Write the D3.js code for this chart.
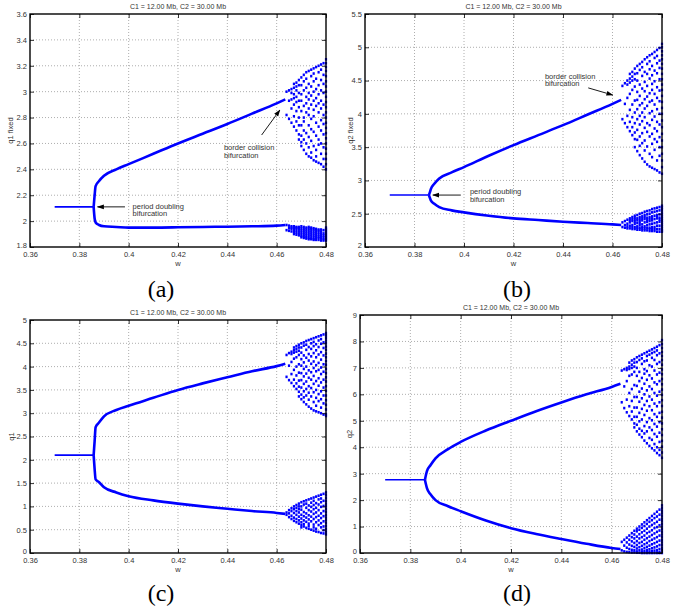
<!DOCTYPE html>
<html>
<head>
<meta charset="utf-8">
<script src="https://cdn.jsdelivr.net/npm/d3@7"></script>
<style>
body { margin: 0; background: #fff; }
text { font-family: "Liberation Sans", Arial, sans-serif; }
</style>
</head>
<body>
<svg id="fig" width="681" height="614"></svg>
<script>
var title = "C1 = 12.00 Mb, C2 = 30.00 Mb";
var wTicks = [0.36, 0.38, 0.4, 0.42, 0.44, 0.46, 0.48];

// period-1 fixed point, flat segment before the flip
var wPeriod1 = [0.37, 0.3858];
var p1Values = [2.11, 2.78, 2.1, 2.77];

// period-2 branches after the period doubling
var wBranch = [0.3858, 0.3862, 0.3866, 0.388, 0.39, 0.395, 0.40, 0.41, 0.42, 0.43, 0.44, 0.45, 0.46, 0.4635];
var aUp = [2.11, 2.2, 2.27, 2.31, 2.35, 2.40, 2.44, 2.52, 2.60, 2.675, 2.75, 2.83, 2.91, 2.94];
var aLo = [2.11, 2.02, 1.99, 1.97, 1.96, 1.955, 1.95, 1.95, 1.952, 1.955, 1.957, 1.96, 1.965, 1.97];
var bUp = [2.78, 2.82, 2.87, 2.95, 3.03, 3.12, 3.2, 3.37, 3.53, 3.68, 3.83, 3.99, 4.15, 4.21];
var bLo = [2.78, 2.74, 2.7, 2.65, 2.6, 2.55, 2.52, 2.47, 2.43, 2.405, 2.38, 2.36, 2.34, 2.33];
var cUp = [2.1, 2.4, 2.7, 2.8, 2.93, 3.07, 3.16, 3.33, 3.5, 3.64, 3.77, 3.9, 4.01, 4.06];
var cLo = [2.1, 1.8, 1.58, 1.52, 1.41, 1.3, 1.22, 1.13, 1.06, 1.0, 0.95, 0.9, 0.86, 0.84];
var dUp = [2.77, 2.95, 3.1, 3.32, 3.58, 3.93, 4.2, 4.63, 5.0, 5.36, 5.69, 6.0, 6.28, 6.4];
var dLo = [2.77, 2.6, 2.45, 2.22, 2.0, 1.77, 1.58, 1.23, 0.94, 0.72, 0.53, 0.35, 0.19, 0.15];

// chaotic region after the border collision, one list of q per w column
var wChaos = [0.464, 0.465, 0.466, 0.467, 0.468, 0.469, 0.470, 0.471, 0.472, 0.473, 0.474, 0.475, 0.476, 0.477, 0.478, 0.479, 0.480];
var aChaosUp = [
  [3.0, 2.82], [3.01, 2.79, 2.93], [3.02, 2.99, 2.76, 2.87, 2.94],
  [3.03, 2.98, 2.73, 2.81, 2.9, 2.95, 3.06], [3.07, 3.01, 2.96, 2.7, 2.77, 2.85, 2.92, 3.04],
  [3.09, 3.05, 2.99, 2.67, 2.74, 2.8, 2.88, 2.93, 2.63],
  [3.11, 3.05, 2.98, 2.93, 2.85, 2.74, 2.66, 2.61, 2.58],
  [3.13, 3.08, 3.01, 2.89, 2.8, 2.77, 2.7, 2.55, 2.63],
  [3.15, 3.1, 3.03, 2.96, 2.91, 2.84, 2.68, 2.6, 2.52],
  [3.16, 3.06, 2.99, 2.87, 2.82, 2.74, 2.65, 2.57, 2.5, 2.94],
  [3.17, 3.12, 3.04, 2.97, 2.9, 2.79, 2.71, 2.62, 2.53, 2.49],
  [3.18, 3.14, 3.08, 3.0, 2.86, 2.81, 2.69, 2.58, 2.47, 2.93],
  [3.19, 3.1, 3.02, 2.95, 2.89, 2.76, 2.66, 2.55, 2.5, 2.46],
  [3.2, 3.15, 3.05, 2.98, 2.84, 2.73, 2.63, 2.59, 2.45, 2.91],
  [3.21, 3.17, 3.09, 2.93, 2.87, 2.78, 2.7, 2.6, 2.52, 2.44, 3.01],
  [3.22, 3.13, 3.06, 2.99, 2.9, 2.82, 2.67, 2.57, 2.48, 2.42, 2.75],
  [3.25, 3.22, 3.19, 3.16, 3.12, 3.08, 3.04, 3.0, 2.96, 2.92, 2.88, 2.84, 2.8, 2.76, 2.72, 2.68, 2.64, 2.6, 2.56, 2.52, 2.48, 2.44, 2.4]
];
var aChaosLo = [
  [1.97, 1.93], [1.965, 1.925, 1.945], [1.96, 1.92, 1.94, 1.95], [1.96, 1.915, 1.93, 1.945, 1.9],
  [1.955, 1.91, 1.925, 1.94, 1.895, 1.95], [1.955, 1.905, 1.92, 1.935, 1.89, 1.945],
  [1.96, 1.9, 1.915, 1.93, 1.885, 1.945, 1.875], [1.955, 1.895, 1.91, 1.925, 1.88, 1.94, 1.87],
  [1.95, 1.89, 1.905, 1.92, 1.875, 1.935, 1.865], [1.955, 1.885, 1.9, 1.915, 1.87, 1.93, 1.86, 1.945],
  [1.95, 1.88, 1.895, 1.91, 1.865, 1.925, 1.86, 1.94], [1.945, 1.875, 1.89, 1.905, 1.86, 1.92, 1.855, 1.935],
  [1.94, 1.87, 1.885, 1.9, 1.855, 1.915, 1.93], [1.935, 1.87, 1.88, 1.895, 1.855, 1.91, 1.925],
  [1.935, 1.865, 1.875, 1.89, 1.85, 1.905, 1.92], [1.93, 1.86, 1.875, 1.89, 1.85, 1.905],
  [1.95, 1.94, 1.93, 1.92, 1.91, 1.9, 1.89, 1.88, 1.87, 1.86, 1.85]
];
var bChaosUp = [
  [4.42, 3.92], [4.46, 3.86, 4.15], [4.5, 4.44, 3.8, 3.97, 4.24],
  [4.53, 4.47, 3.74, 3.88, 4.06, 4.3, 4.6], [4.63, 4.56, 4.5, 3.68, 3.8, 3.95, 4.14, 4.36],
  [4.68, 4.6, 4.52, 3.62, 3.72, 3.86, 4.02, 4.2, 4.41, 3.5],
  [4.72, 4.61, 4.5, 4.33, 4.21, 4.07, 3.92, 3.76, 3.61, 3.44],
  [4.75, 4.66, 4.44, 4.27, 4.13, 3.97, 3.84, 3.66, 3.52, 3.38],
  [4.78, 4.7, 4.57, 4.38, 4.16, 4.02, 3.89, 3.71, 3.56, 3.33],
  [4.82, 4.63, 4.48, 4.34, 4.22, 4.08, 3.95, 3.79, 3.6, 3.45, 3.28],
  [4.85, 4.75, 4.6, 4.42, 4.26, 4.12, 3.86, 3.73, 3.51, 3.24],
  [4.88, 4.79, 4.67, 4.53, 4.31, 4.18, 4.01, 3.83, 3.66, 3.4, 3.21],
  [4.9, 4.72, 4.58, 4.45, 4.36, 4.2, 4.04, 3.91, 3.7, 3.55, 3.35, 3.19],
  [4.93, 4.84, 4.65, 4.49, 4.3, 4.14, 3.96, 3.78, 3.62, 3.46, 3.17],
  [4.96, 4.87, 4.76, 4.61, 4.4, 4.24, 4.07, 3.88, 3.74, 3.58, 3.3, 3.15],
  [4.99, 4.8, 4.69, 4.52, 4.35, 4.19, 4.0, 3.84, 3.65, 3.5, 3.37, 3.12],
  [5.05, 5.0, 4.94, 4.88, 4.82, 4.75, 4.68, 4.6, 4.52, 4.44, 4.36, 4.27, 4.18, 4.09, 4.0, 3.9, 3.8, 3.7, 3.6, 3.5, 3.4, 3.3, 3.2, 3.1]
];
var bChaosLo = [
  [2.37, 2.3], [2.39, 2.29, 2.33], [2.41, 2.28, 2.35, 2.31], [2.43, 2.28, 2.37, 2.32, 2.4],
  [2.45, 2.27, 2.39, 2.33, 2.3, 2.42], [2.47, 2.27, 2.41, 2.35, 2.3, 2.44, 2.38],
  [2.48, 2.26, 2.43, 2.36, 2.31, 2.29, 2.4], [2.5, 2.26, 2.45, 2.39, 2.33, 2.29, 2.42, 2.36],
  [2.51, 2.25, 2.46, 2.4, 2.34, 2.3, 2.28, 2.43], [2.53, 2.25, 2.48, 2.42, 2.37, 2.31, 2.28, 2.45],
  [2.54, 2.25, 2.49, 2.44, 2.38, 2.33, 2.29, 2.41], [2.55, 2.24, 2.5, 2.45, 2.39, 2.34, 2.29, 2.27, 2.42],
  [2.57, 2.24, 2.52, 2.46, 2.4, 2.35, 2.3, 2.27, 2.43], [2.58, 2.24, 2.53, 2.47, 2.42, 2.36, 2.3, 2.27],
  [2.59, 2.23, 2.54, 2.48, 2.43, 2.37, 2.32, 2.27, 2.45], [2.6, 2.23, 2.55, 2.49, 2.44, 2.38, 2.32, 2.27, 2.41],
  [2.62, 2.59, 2.56, 2.52, 2.49, 2.46, 2.43, 2.4, 2.37, 2.34, 2.31, 2.28, 2.25, 2.23]
];
var cChaosUp = [
  [4.25, 3.78], [4.29, 3.71, 4.02], [4.32, 4.27, 3.65, 3.84, 4.1],
  [4.35, 4.3, 3.58, 3.72, 3.93, 4.17, 4.41], [4.44, 4.38, 4.32, 3.52, 3.64, 3.81, 4.0, 4.2],
  [4.47, 4.41, 4.34, 3.46, 3.57, 3.7, 3.87, 4.05, 4.25, 3.36],
  [4.5, 4.41, 4.3, 4.16, 4.02, 3.86, 3.71, 3.55, 3.4, 3.3],
  [4.52, 4.45, 4.24, 4.09, 3.95, 3.79, 3.63, 3.47, 3.34, 3.24],
  [4.55, 4.47, 4.36, 4.19, 4.0, 3.85, 3.68, 3.52, 3.38, 3.19],
  [4.57, 4.42, 4.27, 4.13, 3.92, 3.76, 3.58, 3.44, 3.29, 3.14],
  [4.59, 4.5, 4.38, 4.22, 4.06, 3.88, 3.72, 3.54, 3.36, 3.1],
  [4.61, 4.53, 4.44, 4.29, 4.11, 3.97, 3.8, 3.63, 3.45, 3.24, 3.06],
  [4.63, 4.48, 4.35, 4.2, 4.03, 3.9, 3.69, 3.5, 3.33, 3.16, 3.04],
  [4.65, 4.56, 4.42, 4.26, 4.08, 3.93, 3.75, 3.59, 3.41, 3.26, 3.02],
  [4.67, 4.59, 4.49, 4.31, 4.15, 3.98, 3.84, 3.66, 3.47, 3.3, 3.12, 3.0],
  [4.69, 4.52, 4.4, 4.24, 4.05, 3.89, 3.72, 3.55, 3.38, 3.21, 2.97],
  [4.72, 4.67, 4.62, 4.56, 4.5, 4.43, 4.36, 4.28, 4.2, 4.12, 4.04, 3.95, 3.86, 3.77, 3.68, 3.58, 3.48, 3.38, 3.28, 3.18, 3.08, 2.98, 2.94]
];
var cChaosLo = [
  [0.87, 0.82], [0.92, 0.77, 0.85], [0.96, 0.73, 0.8, 0.9], [1.0, 0.69, 0.76, 0.86, 0.94],
  [1.03, 0.66, 0.73, 0.82, 0.9, 0.97], [1.06, 0.63, 0.7, 0.78, 0.87, 0.94, 1.0],
  [1.09, 1.0, 0.93, 0.82, 0.74, 0.66, 0.6, 0.55],
  [1.11, 1.04, 0.88, 0.79, 0.7, 0.62, 0.57],
  [1.13, 1.06, 0.97, 0.85, 0.76, 0.67, 0.54],
  [1.15, 1.02, 0.92, 0.81, 0.72, 0.63, 0.58, 0.52],
  [1.17, 1.08, 0.99, 0.89, 0.78, 0.68, 0.5],
  [1.19, 1.12, 1.03, 0.94, 0.84, 0.73, 0.61, 0.55, 0.48],
  [1.21, 1.07, 0.97, 0.87, 0.77, 0.66, 0.52, 0.46],
  [1.23, 1.15, 1.04, 0.92, 0.8, 0.7, 0.6, 0.45],
  [1.25, 1.17, 1.09, 0.99, 0.85, 0.75, 0.64, 0.55, 0.43],
  [1.27, 1.12, 1.01, 0.9, 0.79, 0.68, 0.57, 0.49, 0.42],
  [1.3, 1.24, 1.18, 1.12, 1.06, 1.0, 0.94, 0.88, 0.82, 0.76, 0.7, 0.64, 0.58, 0.52, 0.46, 0.4]
];
var dChaosUp = [
  [6.9, 5.7], [6.95, 5.48, 6.3], [7.0, 6.92, 5.32, 5.8, 6.5],
  [7.05, 6.96, 5.18, 5.55, 6.05, 6.7, 7.2], [7.28, 7.12, 7.0, 5.05, 5.35, 5.75, 6.2, 6.75],
  [7.33, 7.2, 7.05, 4.9, 5.15, 5.5, 5.9, 6.35, 6.85, 4.75],
  [7.4, 7.22, 7.0, 6.7, 6.32, 5.9, 5.5, 5.15, 4.85, 4.6],
  [7.45, 7.3, 6.85, 6.5, 6.1, 5.72, 5.3, 4.98, 4.7, 4.48],
  [7.5, 7.36, 7.15, 6.62, 6.22, 5.85, 5.45, 5.05, 4.62, 4.38],
  [7.55, 7.25, 6.95, 6.78, 6.4, 6.0, 5.6, 5.22, 4.8, 4.52, 4.25],
  [7.6, 7.45, 7.28, 6.88, 6.55, 6.15, 5.75, 5.38, 4.95, 4.6, 4.15],
  [7.65, 7.5, 7.1, 6.72, 6.3, 5.92, 5.55, 5.1, 4.75, 4.35, 4.05],
  [7.7, 7.56, 7.38, 7.05, 6.6, 6.2, 5.8, 5.4, 5.02, 4.65, 4.28, 3.96],
  [7.75, 7.6, 7.3, 6.9, 6.45, 6.05, 5.65, 5.25, 4.88, 4.5, 4.12, 3.88],
  [7.8, 7.66, 7.48, 7.15, 6.75, 6.38, 5.95, 5.55, 5.15, 4.78, 4.4, 4.0, 3.78],
  [7.86, 7.55, 7.22, 6.82, 6.5, 6.1, 5.7, 5.3, 4.95, 4.55, 4.2, 3.9, 3.7],
  [8.05, 7.9, 7.75, 7.6, 7.45, 7.3, 7.12, 6.94, 6.76, 6.58, 6.38, 6.18, 5.98, 5.78, 5.56, 5.34, 5.12, 4.9, 4.68, 4.46, 4.24, 4.02, 3.8, 3.6]
];
var dChaosLo = [
  [0.42, 0.1], [0.5, 0.06, 0.28], [0.58, 0.04, 0.2, 0.4], [0.66, 0.03, 0.15, 0.32, 0.5],
  [0.75, 0.02, 0.12, 0.27, 0.44, 0.6], [0.84, 0.02, 0.1, 0.23, 0.38, 0.55, 0.7],
  [0.92, 0.82, 0.62, 0.45, 0.3, 0.17, 0.06, 0.01],
  [1.0, 0.88, 0.71, 0.55, 0.38, 0.22, 0.1, 0.01],
  [1.08, 0.95, 0.78, 0.6, 0.42, 0.27, 0.13, 0.04, 0.0],
  [1.16, 1.02, 0.84, 0.66, 0.5, 0.33, 0.19, 0.08, 0.0],
  [1.24, 1.1, 0.92, 0.75, 0.56, 0.38, 0.23, 0.11, 0.03, 0.0],
  [1.32, 1.18, 1.0, 0.8, 0.62, 0.45, 0.28, 0.14, 0.05, 0.0],
  [1.4, 1.24, 1.06, 0.86, 0.68, 0.5, 0.33, 0.18, 0.07, 0.0],
  [1.48, 1.32, 1.12, 0.94, 0.74, 0.55, 0.37, 0.21, 0.09, 0.0],
  [1.56, 1.38, 1.18, 0.98, 0.8, 0.6, 0.42, 0.25, 0.11, 0.02, 0.0],
  [1.64, 1.45, 1.26, 1.05, 0.85, 0.66, 0.47, 0.3, 0.15, 0.04, 0.0],
  [1.8, 1.7, 1.6, 1.5, 1.4, 1.3, 1.2, 1.1, 1.0, 0.9, 0.8, 0.7, 0.6, 0.5, 0.4, 0.3, 0.2, 0.1, 0.0]
];

var aTicks = [1.8, 2, 2.2, 2.4, 2.6, 2.8, 3, 3.2, 3.4, 3.6];
var bTicks = [2, 2.5, 3, 3.5, 4, 4.5, 5, 5.5];
var cTicks = [0, 0.5, 1, 1.5, 2, 2.5, 3, 3.5, 4, 4.5, 5];
var dTicks = [0, 1, 2, 3, 4, 5, 6, 7, 8, 9];

var panels = [
  {cap: "(a)", ylab: "q1 fixed", ticks: aTicks, p1: p1Values[0], up: aUp, lo: aLo, cu: aChaosUp, cl: aChaosLo,
   l: 30, r: 326, t: 14, b: 247, titleY: 8.5, ylabX: 10, capX: 161, capY: 297,
   notes: [
     {lines: ["period doubling", "bifurcation"], at: [0.4016, 2.097], from: [0.3985, 2.11], to: [0.3874, 2.11]},
     {lines: ["border collision", "bifurcation"], at: [0.4386, 2.549], from: [0.4539, 2.665], to: [0.4613, 2.858]}
   ]},
  {cap: "(b)", ylab: "q2 fixed", ticks: bTicks, p1: p1Values[1], up: bUp, lo: bLo, cu: bChaosUp, cl: bChaosLo,
   l: 365, r: 662, t: 14, b: 247, titleY: 8.5, ylabX: 350, capX: 517, capY: 297,
   notes: [
     {lines: ["period doubling", "bifurcation"], at: [0.4024, 2.796], from: [0.3987, 2.78], to: [0.3874, 2.78]},
     {lines: ["border collision", "bifurcation"], at: [0.4327, 4.524], from: [0.4502, 4.39], to: [0.4601, 4.283]}
   ]},
  {cap: "(c)", ylab: "q1", ticks: cTicks, p1: p1Values[2], up: cUp, lo: cLo, cu: cChaosUp, cl: cChaosLo,
   l: 30, r: 326, t: 320, b: 553, titleY: 315, ylabX: 11, capX: 161, capY: 601, notes: []},
  {cap: "(d)", ylab: "q2", ticks: dTicks, p1: p1Values[3], up: dUp, lo: dLo, cu: dChaosUp, cl: dChaosLo,
   l: 360, r: 662, t: 315, b: 553, titleY: 310, ylabX: 349, capX: 517, capY: 601, notes: []}
];

var svg = d3.select("#fig");
var defs = svg.append("defs");
defs.append("marker")
    .attr("id", "head")
    .attr("viewBox", "0 0 10 10")
    .attr("refX", 9).attr("refY", 5)
    .attr("markerWidth", 7).attr("markerHeight", 7)
    .attr("markerUnits", "userSpaceOnUse")
    .attr("orient", "auto")
  .append("path")
    .attr("d", "M0,1.5 L10,5 L0,8.5 Z")
    .attr("fill", "#000");

var blue = "#0000ff";
var fmt = function(d) { return String(d); };

panels.forEach(function(p) {
    var g = svg.append("g");
    var x = d3.scaleLinear().domain([0.36, 0.48]).range([p.l, p.r]);
    var y = d3.scaleLinear().domain(d3.extent(p.ticks)).range([p.b, p.t]);

    // dotted grid
    g.selectAll(".gx").data(wTicks.slice(1, -1)).enter().append("line")
        .attr("x1", function(d) { return x(d); }).attr("x2", function(d) { return x(d); })
        .attr("y1", p.t).attr("y2", p.b)
        .attr("stroke", "#999").attr("stroke-width", 0.8).attr("stroke-dasharray", "1,2");
    g.selectAll(".gy").data(p.ticks.slice(1, -1)).enter().append("line")
        .attr("y1", function(d) { return y(d); }).attr("y2", function(d) { return y(d); })
        .attr("x1", p.l).attr("x2", p.r)
        .attr("stroke", "#999").attr("stroke-width", 0.8).attr("stroke-dasharray", "1,2");

    var line = d3.line().x(function(d) { return x(d[0]); }).y(function(d) { return y(d[1]); });
    var smooth = d3.line().curve(d3.curveMonotoneX)
        .x(function(d) { return x(d[0]); }).y(function(d) { return y(d[1]); });

    // period-1 segment
    g.append("path")
        .attr("d", line(wPeriod1.map(function(w) { return [w, p.p1]; })))
        .attr("fill", "none").attr("stroke", blue).attr("stroke-width", 1.6);

    // period-2 branches
    [p.up, p.lo].forEach(function(arr) {
        g.append("path")
            .attr("d", smooth(wBranch.map(function(w, i) { return [w, arr[i]]; })))
            .attr("fill", "none").attr("stroke", blue).attr("stroke-width", 2.6)
            .attr("stroke-linejoin", "round");
    });

    // chaotic dots
    var pts = [];
    [p.cu, p.cl].forEach(function(cols) {
        cols.forEach(function(qs, i) {
            qs.forEach(function(q) { pts.push([wChaos[i], q]); });
        });
    });
    g.selectAll(".pt").data(pts).enter().append("rect")
        .attr("x", function(d) { return x(d[0]) - 1.1; })
        .attr("y", function(d) { return y(d[1]) - 1.3; })
        .attr("width", 2.2).attr("height", 2.6)
        .attr("fill", blue);

    // axes with inward ticks on all four sides
    var axL = g.append("g").attr("transform", "translate(" + p.l + ",0)")
        .call(d3.axisLeft(y).tickValues(p.ticks).tickFormat(fmt).tickSizeInner(-4).tickSizeOuter(0).tickPadding(3));
    var axB = g.append("g").attr("transform", "translate(0," + p.b + ")")
        .call(d3.axisBottom(x).tickValues(wTicks).tickFormat(fmt).tickSizeInner(-4).tickSizeOuter(0).tickPadding(4.5));
    var axR = g.append("g").attr("transform", "translate(" + p.r + ",0)")
        .call(d3.axisRight(y).tickValues(p.ticks).tickFormat("").tickSizeInner(-4).tickSizeOuter(0));
    var axT = g.append("g").attr("transform", "translate(0," + p.t + ")")
        .call(d3.axisTop(x).tickValues(wTicks).tickFormat("").tickSizeInner(-4).tickSizeOuter(0));
    [axL, axB, axR, axT].forEach(function(a) {
        a.select(".domain").remove();
        a.selectAll("line").attr("stroke", "#000").attr("stroke-width", 0.8);
        a.selectAll("text").attr("fill", "#333").style("font-size", "7.5px")
            .style("font-family", "Liberation Sans, Arial, sans-serif");
    });
    // lift the lowest y label a touch so it clears the first w label
    axL.selectAll("text").filter(function(d) { return d === p.ticks[0]; }).attr("y", -1.5);

    g.append("rect")
        .attr("x", p.l).attr("y", p.t)
        .attr("width", p.r - p.l).attr("height", p.b - p.t)
        .attr("fill", "none").attr("stroke", "#000").attr("stroke-width", 1.4);

    // texts
    g.append("text")
        .attr("x", (p.l + p.r) / 2).attr("y", p.titleY)
        .attr("text-anchor", "middle").attr("fill", "#333")
        .style("font-size", "7px").text(title);
    g.append("text")
        .attr("x", (p.l + p.r) / 2).attr("y", p.b + 18.5)
        .attr("text-anchor", "middle").attr("fill", "#333")
        .style("font-size", "7.5px").text("w");
    g.append("text")
        .attr("transform", "translate(" + p.ylabX + "," + ((p.t + p.b) / 2) + ")rotate(-90)")
        .attr("dy", "0.35em")
        .attr("text-anchor", "middle").attr("fill", "#333")
        .style("font-size", "7.5px").text(p.ylab);
    g.append("text")
        .attr("x", p.capX).attr("y", p.capY)
        .attr("text-anchor", "middle").attr("fill", "#000")
        .style("font-family", "Liberation Serif, Times New Roman, serif")
        .style("font-size", "24px").text(p.cap);

    // annotations
    p.notes.forEach(function(n) {
        g.append("line")
            .attr("x1", x(n.from[0])).attr("y1", y(n.from[1]))
            .attr("x2", x(n.to[0])).attr("y2", y(n.to[1]))
            .attr("stroke", "#000").attr("stroke-width", 0.9)
            .attr("marker-end", "url(#head)");
        var t = g.append("text")
            .attr("x", x(n.at[0])).attr("y", y(n.at[1]))
            .attr("fill", "#333").style("font-size", "7.5px");
        n.lines.forEach(function(s, i) {
            t.append("tspan").attr("x", x(n.at[0])).attr("dy", i === 0 ? 0 : 7.5).text(s);
        });
    });
});
</script>
</body>
</html>
